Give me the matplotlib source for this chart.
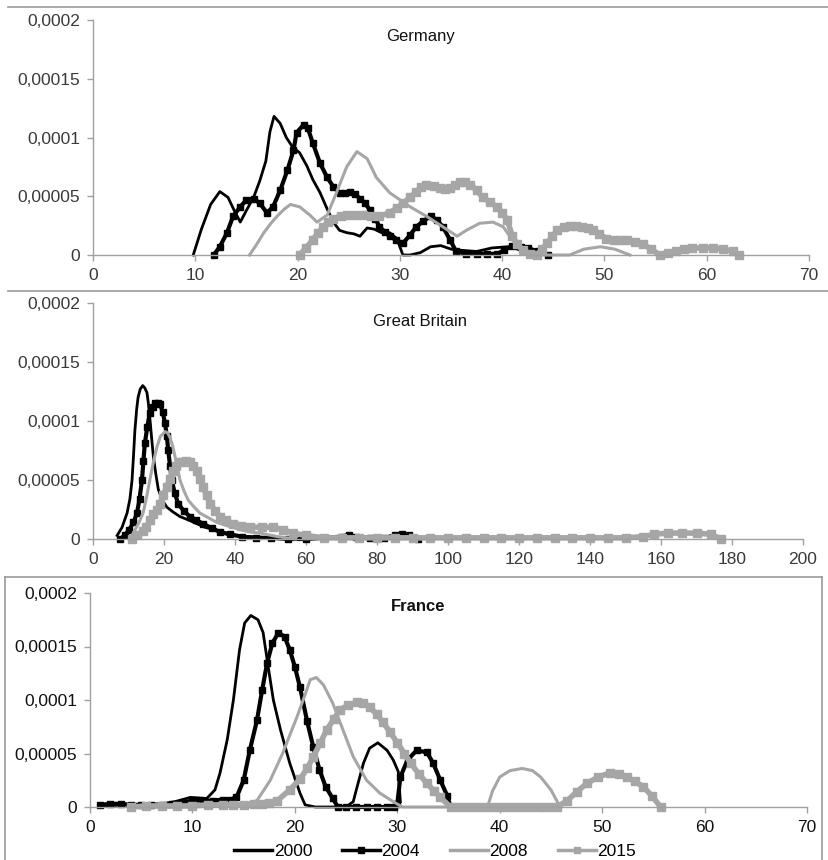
import matplotlib
matplotlib.use("Agg")
import matplotlib.pyplot as plt
from matplotlib.lines import Line2D
import numpy as np

plt.rcParams['font.family'] = ['Liberation Sans', 'DejaVu Sans']

years = ['2000', '2004', '2008', '2015']

# values in units of 1e-5
de_2000_x = [9.8, 10.6, 11.5, 12.4, 13.2, 13.8, 14.4, 15.0, 15.7, 16.3, 16.9, 17.3, 17.7, 18.3, 18.9, 19.5, 20.2, 20.9, 21.5, 22.2, 22.9, 23.5, 24.1, 24.8, 25.5, 26.1, 26.8, 27.5, 28.2, 29.0, 29.7, 30.3, 31.0, 32.0, 33.0, 34.0, 35.0, 36.0, 37.5, 39.0, 40.5, 41.5]
de_2000_y = [0, 2.2, 4.3, 5.4, 4.9, 3.8, 2.8, 3.8, 4.9, 6.3, 8.0, 10.5, 11.8, 11.2, 10.0, 9.2, 8.7, 7.6, 6.4, 5.3, 3.9, 2.8, 2.1, 1.9, 1.8, 1.6, 2.3, 2.2, 1.9, 1.9, 1.4, 0, 0, 0.2, 0.7, 0.8, 0.5, 0.4, 0.3, 0.6, 0.7, 0.5]
de_2004_x = [11.8, 12.4, 13.1, 13.7, 14.4, 15.0, 15.7, 16.3, 17.0, 17.6, 18.3, 19.0, 19.6, 19.9, 20.6, 21.0, 21.5, 22.2, 22.9, 23.5, 24.1, 24.6, 25.1, 25.6, 26.1, 26.6, 27.1, 27.6, 28.0, 28.5, 29.0, 29.6, 30.3, 31.0, 31.6, 32.3, 33.0, 33.6, 34.2, 34.9, 35.5, 36.5, 37.5, 38.5, 39.5, 40.2, 41.0, 41.8, 42.5, 43.5, 44.5]
de_2004_y = [0, 0.7, 1.9, 3.3, 4.1, 4.7, 4.8, 4.4, 3.6, 4.1, 5.5, 7.2, 8.9, 10.4, 11.1, 10.8, 9.5, 7.8, 6.6, 5.8, 5.3, 5.3, 5.4, 5.2, 4.8, 4.4, 3.8, 3.1, 2.4, 2.0, 1.6, 1.3, 1.0, 1.7, 2.4, 2.9, 3.3, 3.0, 2.4, 1.3, 0.3, 0.1, 0.1, 0.1, 0.1, 0.4, 0.8, 0.7, 0.6, 0.3, 0]
de_2008_x = [15.3, 16.0, 16.7, 17.4, 18.0, 18.7, 19.3, 20.2, 21.2, 21.9, 22.9, 23.8, 24.8, 25.8, 26.8, 27.7, 29.0, 30.0, 31.0, 32.6, 34.2, 35.6, 36.5, 37.8, 39.1, 40.1, 41.0, 42.0, 43.0, 46.6, 48.0, 49.6, 51.0, 52.5]
de_2008_y = [0, 0.9, 1.9, 2.7, 3.3, 3.9, 4.3, 4.1, 3.4, 2.8, 3.4, 5.3, 7.5, 8.8, 8.2, 6.6, 5.3, 4.7, 4.1, 3.3, 2.4, 1.6, 2.1, 2.7, 2.8, 2.4, 1.3, 0.6, 0, 0, 0.5, 0.7, 0.5, 0]
de_2015_x = [20.2, 20.8, 21.5, 22.0, 22.5, 23.0, 23.5, 24.2, 24.8, 25.6, 26.4, 27.2, 28.0, 29.0, 29.7, 30.3, 31.0, 31.6, 32.1, 32.6, 33.3, 33.9, 34.4, 34.9, 35.4, 35.9, 36.4, 36.9, 37.5, 38.1, 38.8, 39.5, 40.0, 40.5, 41.0, 41.5, 42.0, 42.7, 43.4, 43.9, 44.4, 44.9, 45.4, 46.0, 46.6, 47.2, 47.8, 48.4, 48.9, 49.5, 50.2, 50.9, 51.5, 52.2, 53.0, 53.8, 54.6, 55.4, 56.2, 57.0, 57.8, 58.6, 59.6, 60.6, 61.6, 62.6, 63.2]
de_2015_y = [0, 0.6, 1.3, 1.9, 2.4, 2.8, 3.1, 3.3, 3.4, 3.4, 3.4, 3.3, 3.3, 3.6, 4.0, 4.4, 4.9, 5.4, 5.8, 6.0, 5.9, 5.7, 5.6, 5.7, 6.0, 6.2, 6.2, 6.0, 5.5, 4.9, 4.5, 4.1, 3.6, 3.0, 1.6, 0.9, 0.4, 0.1, 0, 0.5, 1.0, 1.6, 2.1, 2.4, 2.5, 2.5, 2.4, 2.3, 2.1, 1.8, 1.4, 1.3, 1.3, 1.3, 1.1, 0.9, 0.5, 0, 0.2, 0.3, 0.5, 0.6, 0.6, 0.6, 0.5, 0.3, 0]

gb_2000_x = [6.8, 8.2, 9.6, 10.4, 11.0, 11.4, 11.8, 12.3, 12.7, 13.3, 14.0, 14.6, 15.2, 15.6, 16.0, 16.5, 17.0, 17.7, 18.4, 19.5, 20.8, 22.5, 24.5, 27.0, 29.2, 31.5, 33.8, 36.5, 39.4, 44, 50, 57]
gb_2000_y = [0.3, 1.0, 2.2, 3.4, 5.0, 7.0, 9.2, 11.0, 12.0, 12.7, 13.0, 12.8, 12.4, 11.5, 10.3, 8.6, 7.0, 5.5, 4.2, 3.3, 2.7, 2.3, 1.9, 1.6, 1.3, 1.0, 0.8, 0.5, 0.3, 0.2, 0.1, 0]
gb_2004_x = [7.6, 9.0, 10.2, 11.4, 12.4, 13.1, 13.8, 14.2, 14.6, 15.3, 16.0, 16.8, 17.5, 18.2, 18.9, 19.6, 20.3, 20.8, 21.2, 21.7, 22.2, 23.0, 24.0, 25.5, 27.3, 29.0, 31.0, 33.5, 35.8, 38.5, 42, 46, 50, 55, 60, 65, 70, 72, 74, 78, 82, 85, 87, 89, 91.5]
gb_2004_y = [0, 0.3, 0.8, 1.4, 2.2, 3.4, 5.0, 6.6, 8.1, 9.5, 10.7, 11.2, 11.5, 11.5, 11.4, 10.8, 9.8, 8.7, 7.5, 6.2, 5.0, 3.9, 3.0, 2.4, 1.9, 1.6, 1.3, 0.9, 0.6, 0.4, 0.2, 0.1, 0.1, 0, 0, 0.1, 0.2, 0.35, 0.2, 0.1, 0.1, 0.3, 0.4, 0.3, 0]
gb_2008_x = [10.4, 11.5, 12.8, 14.1, 15.0, 16.0, 17.0, 18.0, 19.0, 20.3, 21.0, 21.7, 22.4, 23.1, 23.8, 24.5, 25.6, 26.8, 28.5, 30.1, 32.5, 34.9, 38, 41.4, 44, 47, 52, 57]
gb_2008_y = [0, 0.6, 1.3, 2.2, 3.4, 5.0, 6.5, 7.8, 8.7, 9.1, 9.0, 8.6, 7.9, 7.0, 6.0, 5.0, 4.1, 3.3, 2.7, 2.2, 1.8, 1.4, 1.1, 0.8, 0.6, 0.5, 0.2, 0]
gb_2015_x = [11.0, 12.5, 14.0, 15.0, 16.0, 17.0, 18.0, 18.9, 19.8, 20.8, 21.6, 22.5, 23.3, 24.2, 25.0, 26.1, 27.3, 28.2, 29.2, 30.1, 31.0, 32.0, 33.0, 34.4, 35.8, 37.5, 39.4, 41.8, 44.2, 47.5, 50.7, 53.5, 56.3, 60, 65, 70, 75, 80, 85, 90, 95, 100, 105, 110, 115, 120, 125, 130, 135, 140, 145, 150, 155, 158, 162, 166, 170, 174, 177]
gb_2015_y = [0, 0.3, 0.7, 1.0, 1.6, 2.1, 2.5, 3.0, 3.7, 4.4, 5.1, 5.8, 6.2, 6.5, 6.5, 6.6, 6.5, 6.2, 5.8, 5.1, 4.4, 3.7, 3.0, 2.4, 1.9, 1.6, 1.3, 1.1, 1.0, 1.0, 1.0, 0.8, 0.5, 0.3, 0.1, 0.1, 0.1, 0.1, 0.1, 0.1, 0.1, 0.1, 0.1, 0.1, 0.1, 0.1, 0.1, 0.1, 0.1, 0.1, 0.1, 0.1, 0.2, 0.4, 0.5, 0.5, 0.5, 0.4, 0]

fr_2000_x = [1.0, 3.0, 5.0, 7.0, 8.3, 9.8, 11.4, 12.2, 12.7, 13.4, 14.0, 14.6, 15.1, 15.7, 16.4, 16.9, 17.4, 17.9, 18.6, 19.5, 20.5, 21.0, 22.0, 23.5, 25.0, 25.7, 26.0, 26.7, 27.3, 28.1, 29.0, 29.6, 30.1, 30.3]
fr_2000_y = [0, 0.2, 0.2, 0.3, 0.5, 0.9, 0.8, 1.6, 3.2, 6.3, 10.0, 14.7, 17.2, 17.9, 17.5, 16.3, 13.1, 10.0, 7.2, 4.1, 1.3, 0.2, 0, 0, 0, 0.5, 1.6, 4.1, 5.5, 6.0, 5.3, 4.4, 3.3, 0.5]
fr_2004_x = [1.0, 2.0, 3.0, 4.0, 5.0, 6.0, 7.0, 8.0, 9.0, 10.0, 11.0, 12.0, 13.0, 13.7, 14.3, 15.0, 15.6, 16.3, 16.8, 17.3, 17.8, 18.4, 19.0, 19.5, 20.0, 20.5, 21.2, 21.8, 22.4, 23.0, 23.7, 24.2, 25.0, 26.0, 27.0, 28.0, 29.0, 29.7, 30.0, 30.3, 31.0, 31.9, 32.9, 33.5, 34.2, 34.9, 35.2]
fr_2004_y = [0.2, 0.3, 0.3, 0.2, 0.2, 0.2, 0.2, 0.3, 0.4, 0.6, 0.6, 0.6, 0.7, 0.7, 0.9, 2.5, 5.3, 8.1, 10.9, 13.5, 15.3, 16.3, 15.9, 14.7, 13.1, 11.2, 8.0, 5.6, 3.5, 1.9, 0.8, 0, 0, 0, 0, 0, 0, 0, 0.3, 2.8, 4.4, 5.3, 5.1, 4.1, 2.5, 1.0, 0]
fr_2008_x = [4.2, 8.0, 12.0, 14.0, 15.3, 16.3, 17.6, 18.8, 20.2, 21.0, 21.5, 22.1, 22.8, 23.7, 24.7, 25.7, 27.0, 28.3, 29.6, 30.5, 34, 38.8, 39.3, 40.0, 41.0, 42.2, 43.2, 44.0, 45.0, 45.9]
fr_2008_y = [0, 0, 0.1, 0.2, 0.3, 0.6, 2.5, 5.0, 8.4, 10.5, 11.9, 12.1, 11.4, 9.7, 7.2, 4.7, 2.5, 1.3, 0.5, 0, 0, 0, 1.5, 2.8, 3.4, 3.6, 3.4, 2.8, 1.6, 0]
fr_2015_x = [4.0, 5.5, 7.0, 8.5, 10.0, 11.5, 13.0, 14.0, 15.0, 16.0, 16.8, 17.5, 18.3, 19.5, 20.5, 21.2, 21.8, 22.5, 23.1, 23.8, 24.4, 25.2, 26.1, 26.7, 27.3, 28.0, 28.6, 29.3, 30.0, 30.7, 31.3, 32.1, 32.9, 33.6, 34.2, 35.2, 36.0, 36.8, 37.6, 38.4, 39.2, 40.0, 40.8, 41.6, 42.4, 43.2, 44.0, 44.8, 45.6, 46.6, 47.5, 48.5, 49.6, 50.8, 51.6, 52.4, 53.2, 54.0, 54.9, 55.7]
fr_2015_y = [0, 0.1, 0.1, 0.1, 0.1, 0.2, 0.2, 0.2, 0.2, 0.3, 0.3, 0.4, 0.6, 1.6, 2.6, 3.6, 4.7, 6.0, 7.2, 8.2, 9.1, 9.5, 9.8, 9.7, 9.3, 8.7, 7.9, 7.0, 6.0, 5.0, 4.1, 3.1, 2.2, 1.5, 0.9, 0, 0, 0, 0, 0, 0, 0, 0, 0, 0, 0, 0, 0, 0, 0.6, 1.4, 2.2, 2.8, 3.2, 3.1, 2.8, 2.4, 1.9, 1.0, 0]

y_ticks = [0, 0.00005, 0.0001, 0.00015, 0.0002]
y_tick_labels = ['0', '0,00005', '0,0001', '0,00015', '0,0002']

black = '#000000'
gray = '#a6a6a6'
styles = {
    '2000': dict(color=black, lw=2.0),
    '2004': dict(color=black, lw=3.0, marker='s', ms=5),
    '2008': dict(color=gray, lw=2.2),
    '2015': dict(color=gray, lw=4.0, marker='s', ms=6),
}
legend_styles = {
    '2000': dict(color=black, lw=2.5),
    '2004': dict(color=black, lw=2.5, marker='s', ms=5),
    '2008': dict(color=gray, lw=2.5),
    '2015': dict(color=gray, lw=2.5, marker='s', ms=5),
}

W, H = 829, 860
fig = plt.figure(figsize=(W / 100, H / 100), dpi=100)


def box(left, right, bottom, top):
    return [left / W, 1 - bottom / H, (right - left) / W, (bottom - top) / H]


panels = [
    dict(name='Germany', rect=box(93, 809, 255, 20), xmax=70, xstep=10,
         data=[(de_2000_x, de_2000_y), (de_2004_x, de_2004_y), (de_2008_x, de_2008_y), (de_2015_x, de_2015_y)],
         title_pos=(0.457, 0.928), bold=False, tcolor='#3a3a3a'),
    dict(name='Great Britain', rect=box(93, 803, 539, 303), xmax=200, xstep=20,
         data=[(gb_2000_x, gb_2000_y), (gb_2004_x, gb_2004_y), (gb_2008_x, gb_2008_y), (gb_2015_x, gb_2015_y)],
         title_pos=(0.46, 0.92), bold=False, tcolor='#3a3a3a'),
    dict(name='France', rect=box(90, 807, 807, 593), xmax=70, xstep=10,
         data=[(fr_2000_x, fr_2000_y), (fr_2004_x, fr_2004_y), (fr_2008_x, fr_2008_y), (fr_2015_x, fr_2015_y)],
         title_pos=(0.457, 0.935), bold=True, tcolor='#111111'),
]

for p in panels:
    ax = fig.add_axes(p['rect'])
    for yr, (xs, ys) in zip(years, p['data']):
        ax.plot(xs, np.array(ys) * 1e-5, label=yr, clip_on=False, **styles[yr])
    ax.set_xlim(0, p['xmax'])
    ax.set_ylim(0, 0.0002)
    ax.set_xticks(np.arange(0, p['xmax'] + 1, p['xstep']))
    ax.set_yticks(y_ticks)
    ax.set_yticklabels(y_tick_labels)
    for s in ['top', 'right']:
        ax.spines[s].set_visible(False)
    for s in ['left', 'bottom']:
        ax.spines[s].set_color('#a0a0a0')
        ax.spines[s].set_linewidth(1)
    ax.tick_params(direction='out', length=4, width=1, color='#a0a0a0',
                   labelsize=12.5, labelcolor=p['tcolor'], pad=5)
    ax.text(p['title_pos'][0], p['title_pos'][1], p['name'], transform=ax.transAxes,
            ha='center', va='center', fontsize=12,
            fontweight='bold' if p['bold'] else 'normal', color='#111111')


# panel separators and box around the last panel
def fig_line(x0, y0, x1, y1):
    fig.add_artist(Line2D([x0 / W, x1 / W], [1 - y0 / H, 1 - y1 / H],
                          color='#9a9a9a', lw=1.2))


fig_line(8, 7, 829, 7)
fig_line(8, 291, 829, 291)
fig_line(5, 577, 822, 577)
fig_line(5, 577, 5, 860)
fig_line(822, 577, 822, 860)

handles = [Line2D([], [], **legend_styles[yr]) for yr in years]
fig.legend(handles=handles, labels=years, loc='center', bbox_to_anchor=(435 / W, 1 - 851 / H),
           ncol=4, frameon=False, fontsize=12.5, handlelength=2.2, handletextpad=0.1,
           columnspacing=1.7, numpoints=1, borderpad=0)

fig.savefig('out.png', dpi=100)
